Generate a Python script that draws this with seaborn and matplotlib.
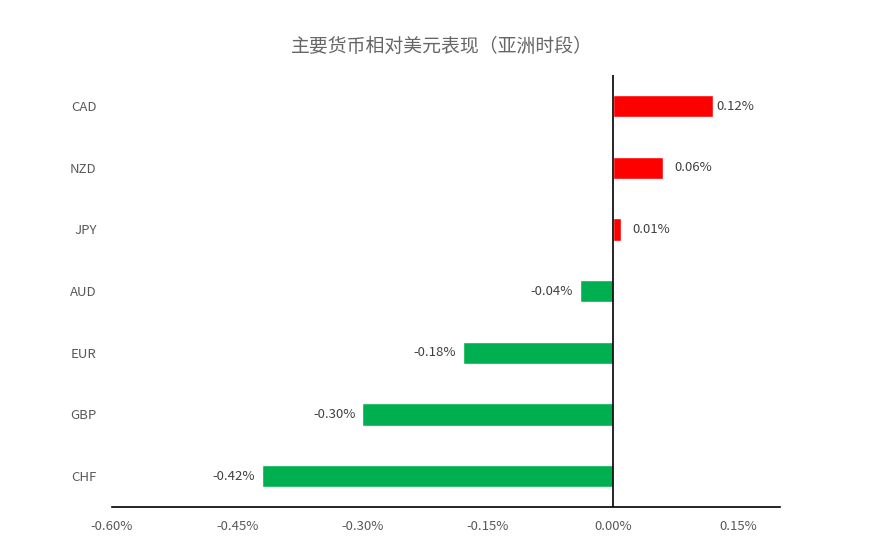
import matplotlib
matplotlib.use("Agg")
import matplotlib.pyplot as plt
import pandas as pd
import seaborn as sns
from matplotlib.ticker import FuncFormatter

# 数据（%）
currencies = ["CAD", "NZD", "JPY", "AUD", "EUR", "GBP", "CHF"]
changes = [0.12, 0.06, 0.01, -0.04, -0.18, -0.30, -0.42]
x_ticks = [-0.60, -0.45, -0.30, -0.15, 0.00, 0.15]

TITLE = "主要货币相对美元表现（亚洲时段）"
UP_COLOR = "#FF0000"
DOWN_COLOR = "#00B050"
TEXT_GRAY = "#595959"
LABEL_GRAY = "#404040"

sns.set_theme(style="white")
plt.rcParams["font.family"] = ["Noto Sans CJK SC", "DejaVu Sans"]

df = pd.DataFrame({"currency": currencies, "change": changes})
df["dir"] = ["up" if v >= 0 else "down" for v in changes]

fig = plt.figure(figsize=(8.93, 5.45), dpi=100)
ax = fig.add_axes([0.1254, 0.0697, 0.748, 0.7923])

sns.barplot(data=df, x="change", y="currency", hue="dir", orient="h",
            palette={"up": UP_COLOR, "down": DOWN_COLOR},
            width=0.36, dodge=False, legend=False, saturation=1, ax=ax)

ax.set_xlim(-0.6, 0.2)
ax.set_ylim(6.5, -0.5)
ax.set_xticks(x_ticks)
ax.xaxis.set_major_formatter(FuncFormatter(lambda v, _: f"{v:.2f}%"))
ax.set_xlabel("")
ax.set_ylabel("")

ax.axvline(0, color="black", linewidth=1.2, zorder=3)
for side in ["left", "right", "top"]:
    ax.spines[side].set_visible(False)
ax.spines["bottom"].set_color("black")
ax.spines["bottom"].set_linewidth(1.2)

ax.tick_params(axis="x", length=0, pad=9, labelsize=9.5, labelcolor=TEXT_GRAY)
ax.tick_params(axis="y", length=0, pad=11, labelsize=9.5, labelcolor=TEXT_GRAY)

# 数据标签
for patch in ax.patches:
    w = patch.get_width()
    if patch.get_height() == 0:
        continue
    yc = patch.get_y() + patch.get_height() / 2
    if w >= 0:
        pad = 2 if w > 0.1 else 8
        ax.annotate(f"{w:.2f}%", (w, yc), xytext=(pad, 0), textcoords="offset points",
                    ha="left", va="center", fontsize=9.5, color=LABEL_GRAY)
    else:
        ax.annotate(f"{w:.2f}%", (w, yc), xytext=(-5, 0), textcoords="offset points",
                    ha="right", va="center", fontsize=9.5, color=LABEL_GRAY)

fig.text(0.495, 0.914, TITLE, ha="center", va="center", fontsize=13.6, color="#666666")

fig.savefig("out.png", dpi=100)
